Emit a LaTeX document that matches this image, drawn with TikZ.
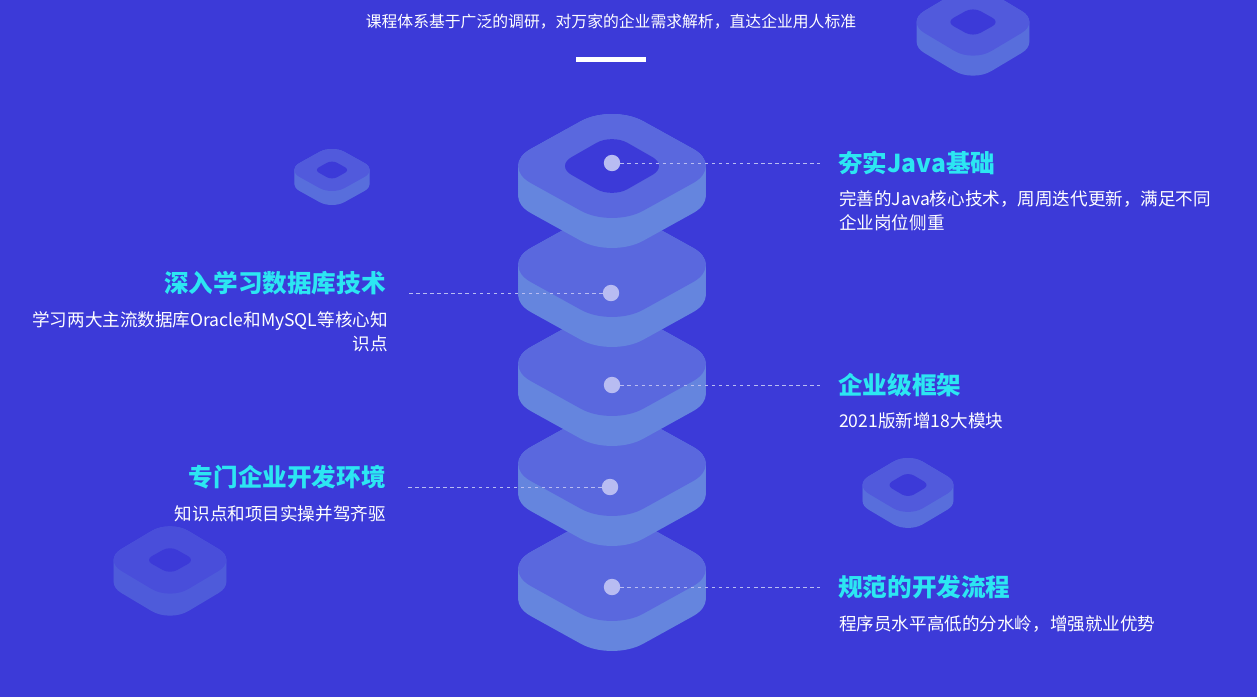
\documentclass[tikz,border=0pt]{standalone}
\usepackage{fontspec}
\setmainfont{Noto Sans CJK SC}
\usetikzlibrary{positioning, calc}
\definecolor{bgblue}{HTML}{3C3AD8}
\definecolor{slabtop}{HTML}{5A68DE}
\definecolor{slabside}{HTML}{6585DE}
\definecolor{dotcol}{HTML}{B8BCF2}
\definecolor{headcol}{HTML}{2CE6F2}
\tikzset{
  head/.style={text=headcol, font=\bfseries\fontsize{21}{24}\selectfont, inner sep=0pt},
  body/.style={text=white, font=\fontsize{15}{20.5}\selectfont, inner sep=0pt},
  dotnode/.style={circle, fill=dotcol, minimum size=14pt, inner sep=0pt},
  guide/.style={draw=dotcol, dashed, line width=0.5pt},
}
% slab: centre, half width, half height, thickness
\newcommand{\slab}[5][1]{%
  \begin{scope}[shift={(#2)}, transparency group, opacity=#1]
    \foreach \t in {0,2,...,#5}
      \fill[slabside, rounded corners=#3*0.27pt] (0,-#4+\t) -- (#3,\t) -- (0,#4+\t) -- (-#3,\t) -- cycle;
    \fill[slabtop, rounded corners=#3*0.27pt] (0,-#4) -- (#3,0) -- (0,#4) -- (-#3,0) -- cycle;
  \end{scope}}
\newcommand{\hole}[3]{%
  \fill[bgblue, rounded corners=#2*0.27pt] ($(#1)+(0,-#3)$) -- ++(#2,#3) -- ++(-#2,#3) -- ++(-#2,-#3) -- cycle;}
\begin{document}
\begin{tikzpicture}[x=0.03cm, y=-0.03cm]
\fill[bgblue] (0,0) rectangle (1257,697);
\useasboundingbox (0,0) rectangle (1257,697);

% floating blocks
\slab[0.7]{332,170}{45}{25}{14}
\hole{332,170}{18}{10}
\slab[0.7]{973,22}{67}{40}{20}
\hole{973,22}{27}{15}
\slab[0.7]{908,485}{54}{32}{16}
\hole{908,485}{22}{13}
\slab[0.45]{170,560}{67}{40}{22}
\hole{170,560}{25}{14}

% stack
\slab{612,569}{112}{62}{30}
\slab{612,464}{112}{62}{30}
\slab{612,364}{112}{62}{30}
\slab{612,265}{112}{62}{30}
\slab{612,166}{112}{62}{30}
\hole{612,166}{56}{32}

% top text and bar
\node[body, font=\fontsize{13.5}{14}\selectfont] (intro) at (611,22) {课程体系基于广泛的调研，对万家的企业需求解析，直达企业用人标准};
\fill[white] (576,57) rectangle (646,62);

% dots
\node[dotnode] (d1) at (612,163) {};
\node[dotnode] (d2) at (611,293) {};
\node[dotnode] (d3) at (612,385) {};
\node[dotnode] (d4) at (610,487) {};
\node[dotnode] (d5) at (612,587) {};

% right labels
\node[head, anchor=west] (h1) at (838,163) {夯实Java基础};
\node[body, anchor=north west, align=left] (b1) at (839,190) {完善的Java核心技术，周周迭代更新，满足不同\\企业岗位侧重};
\node[head, anchor=west] (h3) at (838,385) {企业级框架};
\node[body, anchor=north west] (b3) at (839,412) {2021版新增18大模块};
\node[head, anchor=west] (h5) at (838,587) {规范的开发流程};
\node[body, anchor=north west] (b5) at (839,615) {程序员水平高低的分水岭，增强就业优势};

% left labels
\node[head, anchor=east] (h2) at (386,283) {深入学习数据库技术};
\node[body, anchor=north east, align=right] (b2) at (388,311) {学习两大主流数据库Oracle和MySQL等核心知\\识点};
\node[head, anchor=east] (h4) at (386,477) {专门企业开发环境};
\node[body, anchor=north east] (b4) at (386,505) {知识点和项目实操并驾齐驱};

% guides
\coordinate (r1) at (820,163);
\coordinate (l2) at (406,293);
\coordinate (r3) at (820,385);
\coordinate (l4) at (406,487);
\coordinate (r5) at (820,587);
\draw[guide] (d1) -- (r1);
\draw[guide] (d2) -- (l2);
\draw[guide] (d3) -- (r3);
\draw[guide] (d4) -- (l4);
\draw[guide] (d5) -- (r5);
\end{tikzpicture}
\end{document}
